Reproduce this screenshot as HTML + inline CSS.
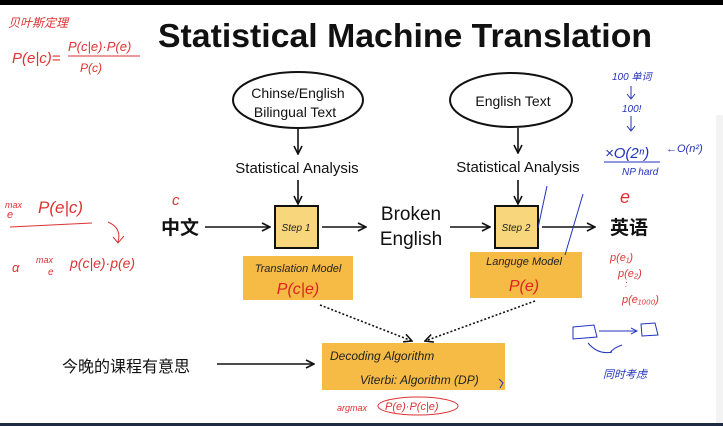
<!DOCTYPE html>
<html><head><meta charset="utf-8"><style>
body{margin:0;width:723px;height:426px;overflow:hidden;background:#fff;}
svg{display:block}
.t{font-family:"Liberation Sans",sans-serif;fill:#111}
.h{font-family:"Liberation Sans","Noto Sans CJK SC",sans-serif;font-style:italic}
</style></head><body>
<svg width="723" height="426" viewBox="0 0 723 426" xmlns="http://www.w3.org/2000/svg">
<defs>
<marker id="a" markerWidth="10" markerHeight="10" refX="9" refY="5" orient="auto" markerUnits="userSpaceOnUse"><path d="M1,1 L9,5 L1,9" fill="none" stroke="#111" stroke-width="1.6"/></marker>
</defs>
<rect x="0" y="0" width="723" height="5" fill="#000"/>
<rect x="0" y="423" width="723" height="3" fill="#1e2a44"/>
<rect x="716" y="115" width="7" height="308" fill="#f3f3f3"/>
<text class="t" x="405" y="47" font-size="33" font-weight="bold" text-anchor="middle" textLength="494" lengthAdjust="spacingAndGlyphs">Statistical Machine Translation</text>

<ellipse cx="298" cy="100" rx="65" ry="28" fill="none" stroke="#111" stroke-width="2"/>
<text class="t" x="298" y="98" font-size="14" text-anchor="middle">Chinse/English</text>
<text class="t" x="295" y="117" font-size="14" text-anchor="middle">Bilingual Text</text>
<ellipse cx="511" cy="100" rx="61" ry="27" fill="none" stroke="#111" stroke-width="2"/>
<text class="t" x="513" y="106" font-size="14" text-anchor="middle">English Text</text>

<g stroke="#111" stroke-width="1.6" fill="none" marker-end="url(#a)">
<line x1="298" y1="129" x2="298" y2="154"/>
<line x1="518" y1="128" x2="518" y2="153"/>
<line x1="298" y1="180" x2="298" y2="204"/>
<line x1="518" y1="180" x2="518" y2="204"/>
<line x1="205" y1="227" x2="270" y2="227"/>
<line x1="322" y1="227" x2="366" y2="227"/>
<line x1="450" y1="227" x2="490" y2="227"/>
<line x1="542" y1="227" x2="595" y2="227"/>
<line x1="217" y1="364" x2="314" y2="364"/>
<line x1="320" y1="305" x2="412" y2="341" stroke-dasharray="2,2"/>
<line x1="535" y1="301" x2="425" y2="341" stroke-dasharray="2,2"/>
</g>
<text class="t" x="297" y="173" font-size="15" text-anchor="middle">Statistical Analysis</text>
<text class="t" x="518" y="172" font-size="15" text-anchor="middle">Statistical Analysis</text>

<rect x="275" y="206" width="43" height="42" fill="#f7d67c" stroke="#111" stroke-width="2"/>
<rect x="495" y="206" width="43" height="42" fill="#f7d67c" stroke="#111" stroke-width="2"/>
<text class="h" x="296" y="231" font-size="10" text-anchor="middle" fill="#222">Step 1</text>
<text class="h" x="516" y="231" font-size="10" text-anchor="middle" fill="#222">Step 2</text>

<text class="t" x="180" y="234" font-size="19" font-weight="bold" text-anchor="middle" style="font-family:'Liberation Sans','Noto Sans CJK SC',sans-serif">中文</text>
<text class="t" x="629" y="234" font-size="19" font-weight="bold" text-anchor="middle" style="font-family:'Liberation Sans','Noto Sans CJK SC',sans-serif">英语</text>
<text class="t" x="411" y="220" font-size="19" text-anchor="middle">Broken</text>
<text class="t" x="411" y="245" font-size="19" text-anchor="middle">English</text>

<rect x="243" y="256" width="110" height="44" fill="#f5bb45"/>
<rect x="470" y="252" width="112" height="46" fill="#f5bb45"/>
<text class="h" x="298" y="272" font-size="11" text-anchor="middle" fill="#222">Translation Model</text>
<text class="h" x="298" y="294" font-size="16" text-anchor="middle" fill="#d22">P(c|e)</text>
<text class="h" x="524" y="265" font-size="11" text-anchor="middle" fill="#222">Languge   Model</text>
<text class="h" x="524" y="291" font-size="16" text-anchor="middle" fill="#d22">P(e)</text>

<rect x="322" y="343" width="183" height="47" fill="#f5bb45"/>
<text class="h" x="330" y="360" font-size="12" fill="#222">Decoding Algorithm</text>
<text class="h" x="360" y="384" font-size="12" fill="#222">Viterbi: Algorithm (DP)</text>
<text class="t" x="126" y="372" font-size="16" text-anchor="middle" style="font-family:'Liberation Sans','Noto Sans CJK SC',sans-serif">今晚的课程有意思</text>

<g class="h" fill="#d33">
<text x="8" y="27" font-size="12">贝叶斯定理</text>
<text x="12" y="63" font-size="15">P(e|c)=</text>
<text x="68" y="51" font-size="13">P(c|e)·P(e)</text>
<text x="80" y="72" font-size="12">P(c)</text>
<text x="5" y="208" font-size="9">max</text>
<text x="7" y="218" font-size="11">e</text>
<text x="38" y="213" font-size="17">P(e|c)</text>
<text x="12" y="272" font-size="13">α</text>
<text x="36" y="263" font-size="9">max</text>
<text x="48" y="275" font-size="10">e</text>
<text x="70" y="268" font-size="14">p(c|e)·p(e)</text>
<text x="172" y="205" font-size="15">c</text>
<text x="620" y="203" font-size="18">e</text>
<text x="610" y="261" font-size="11">p(e₁)</text>
<text x="618" y="277" font-size="11">p(e₂)</text>
<text x="625" y="287" font-size="9">:</text>
<text x="622" y="303" font-size="11">p(e₁₀₀₀)</text>
<text x="337" y="411" font-size="9">argmax</text>
<text x="385" y="410" font-size="11">P(e)·P(c|e)</text>
</g>
<g fill="none" stroke="#d33" stroke-width="1">
<line x1="68" y1="56" x2="140" y2="56"/>
<line x1="10" y1="227" x2="92" y2="223"/>
<path d="M108,222 Q122,228 118,242 M113,237 L118,243 L124,236"/>
<ellipse cx="418" cy="406" rx="40" ry="9"/>
</g>
<g class="h" fill="#2233bb">
<text x="612" y="80" font-size="10">100 单词</text>
<text x="622" y="112" font-size="10">100!</text>
<text x="605" y="158" font-size="15">×O(2ⁿ)</text>
<text x="666" y="152" font-size="11">←O(n²)</text>
<text x="622" y="175" font-size="10">NP hard</text>
<text x="603" y="378" font-size="11">同时考虑</text>
</g>
<g fill="none" stroke="#2233bb" stroke-width="1">
<path d="M631,86 L631,98 M627,94 L631,99 L635,94"/>
<path d="M631,116 L631,130 M627,126 L631,131 L635,126"/>
<line x1="604" y1="162" x2="660" y2="162"/>
<path d="M573,327 L594,325 L597,337 L573,339 Z"/>
<path d="M641,324 L655,323 L658,335 L642,336 Z"/>
<path d="M599,331 L636,331 M631,328 L637,331 L631,334"/>
<path d="M588,343 Q598,355 612,352 M622,345 Q613,348 610,353"/>
<path d="M547,186 L538,228 M583,194 L565,255"/>
<path d="M499,379 L503,383 L500,388"/>
</g>
</svg>
</body></html>
